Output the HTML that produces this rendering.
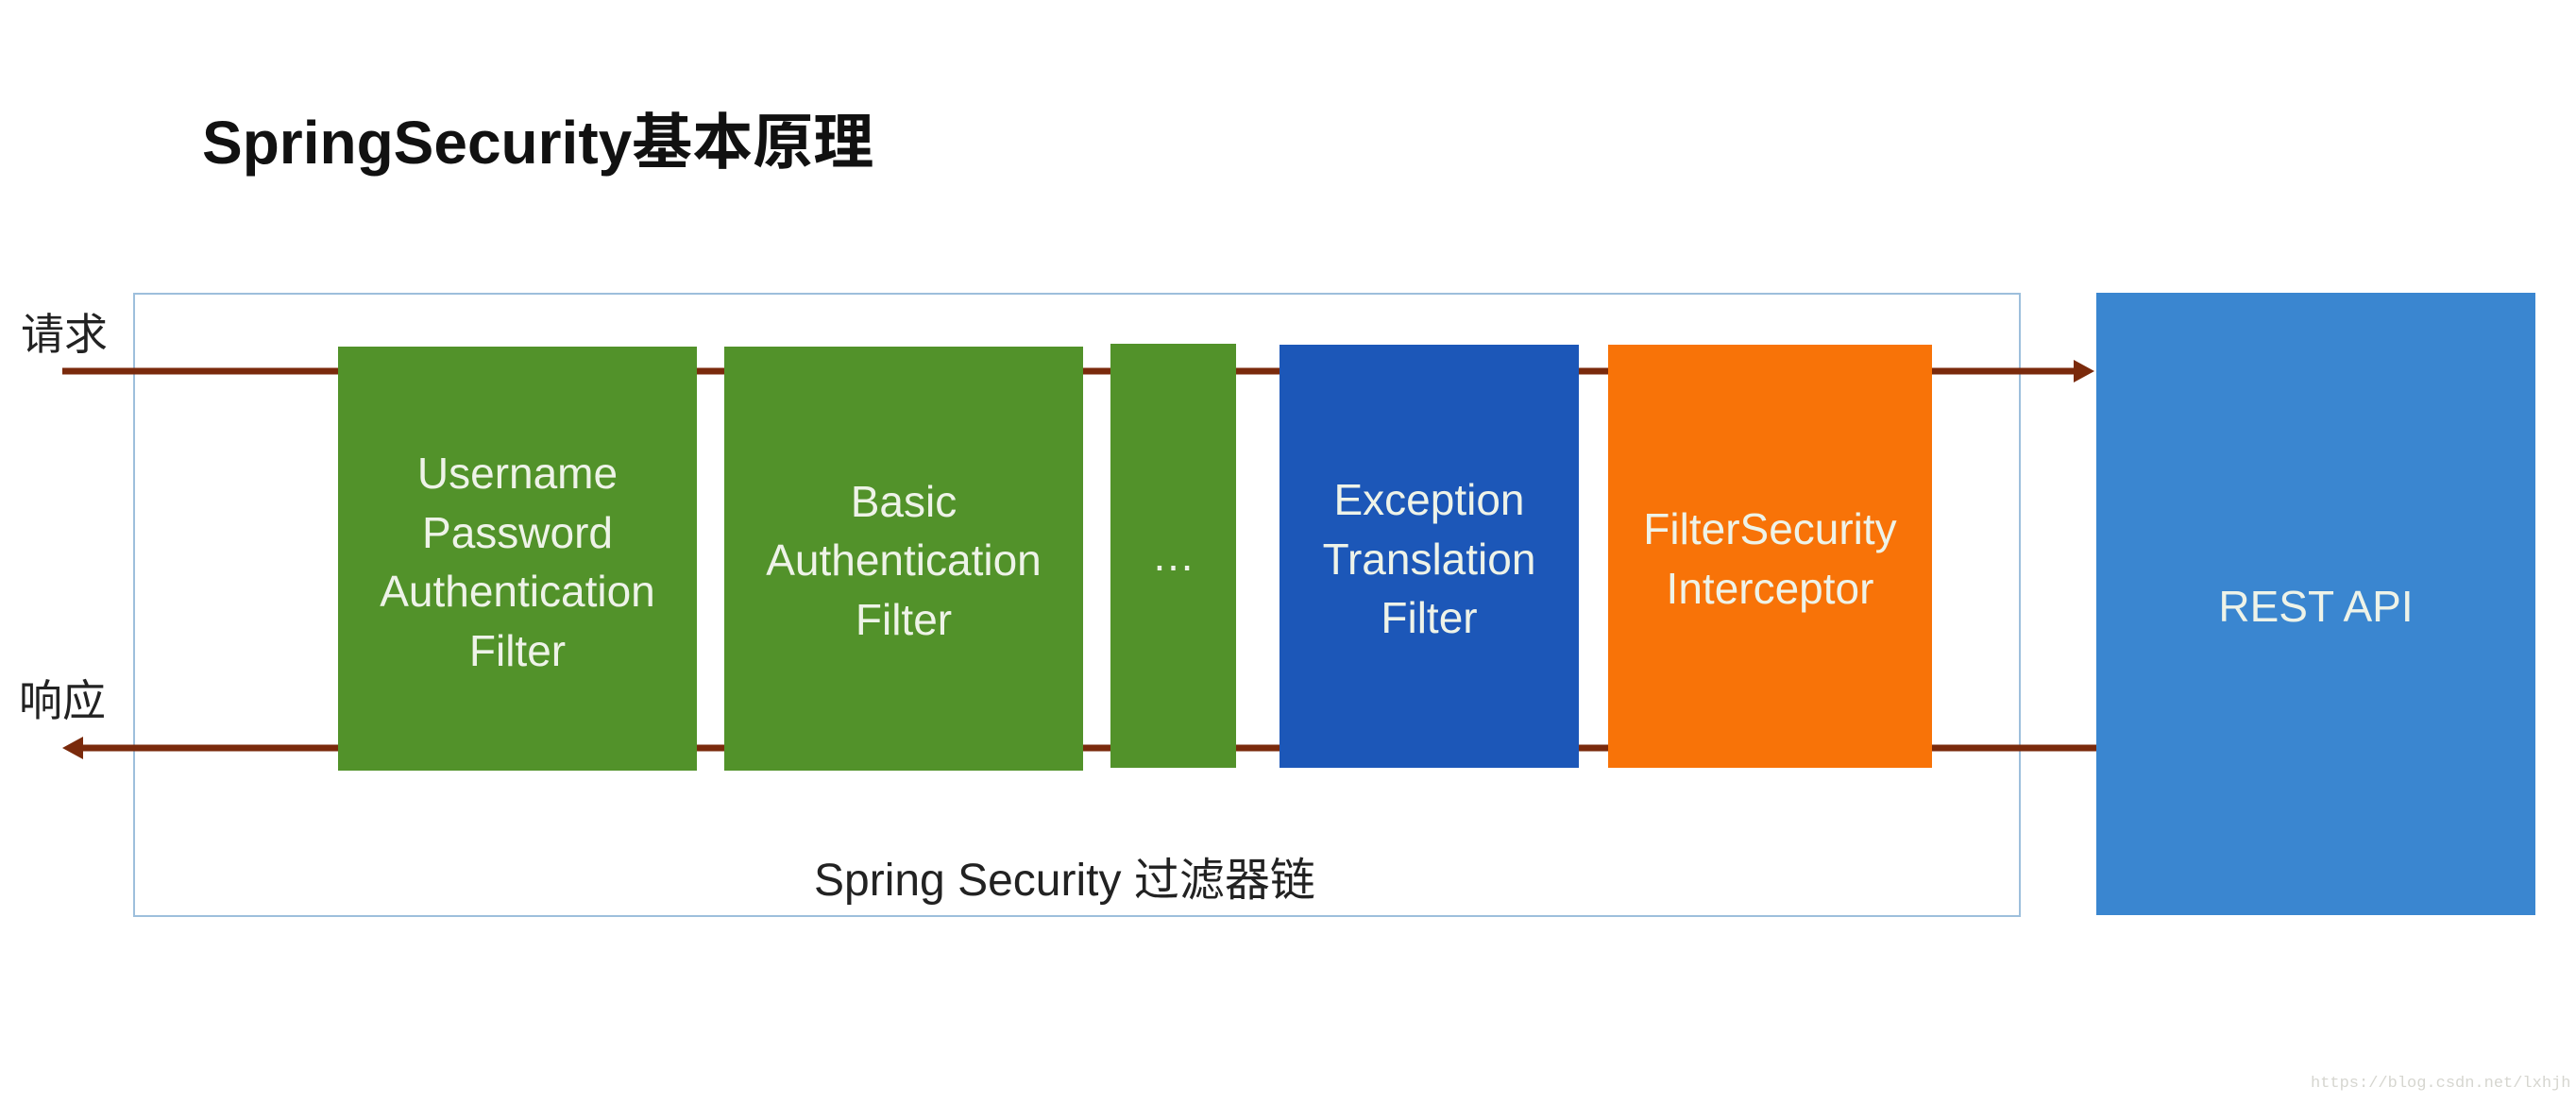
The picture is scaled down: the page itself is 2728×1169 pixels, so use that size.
<!DOCTYPE html>
<html><head><meta charset="utf-8"><style>
html,body{margin:0;padding:0;background:#fff;}
body{width:2728px;height:1169px;position:relative;overflow:hidden;font-family:"Liberation Sans","Noto Sans CJK SC",sans-serif;}
.a{position:absolute;}
.box{position:absolute;color:#eef3e8;font-size:46px;text-align:center;}
.box div{position:absolute;left:0;right:0;transform:translateY(-50%);white-space:nowrap;}
</style></head><body>
<div class="a" style="left:214px;top:100px;font-size:64px;font-weight:bold;color:#111;white-space:nowrap;">SpringSecurity基本原理</div>
<div class="a" style="left:141px;top:310px;width:1995px;height:657px;border:2px solid #9dbfdc;"></div>
<div class="a" style="left:22px;top:318px;font-size:46px;color:#222;">请求</div>
<div class="a" style="left:20px;top:706px;font-size:46px;color:#222;">响应</div>
<svg class="a" style="left:0;top:0" width="2728" height="1169">
<line x1="66" y1="393" x2="2200" y2="393" stroke="#7a2a0c" stroke-width="7"/>
<polygon points="2218,393 2196,381 2196,405" fill="#7a2a0c"/>
<line x1="2220" y1="792" x2="84" y2="792" stroke="#7a2a0c" stroke-width="7"/>
<polygon points="66,792 88,780 88,804" fill="#7a2a0c"/>
</svg>
<div class="box" style="left:358px;top:367px;width:380px;height:449px;background:#52922a;">
<div style="top:134px">Username</div><div style="top:197px">Password</div><div style="top:259px">Authentication</div><div style="top:322px">Filter</div></div>
<div class="box" style="left:767px;top:367px;width:380px;height:449px;background:#52922a;">
<div style="top:164px">Basic</div><div style="top:226px">Authentication</div><div style="top:289px">Filter</div></div>
<div class="box" style="left:1176px;top:364px;width:133px;height:449px;background:#52922a;">
<div style="top:224px">…</div></div>
<div class="box" style="left:1355px;top:365px;width:317px;height:448px;background:#1c57b8;">
<div style="top:164px">Exception</div><div style="top:227px">Translation</div><div style="top:289px">Filter</div></div>
<div class="box" style="left:1703px;top:365px;width:343px;height:448px;background:#f87308;">
<div style="top:195px">FilterSecurity</div><div style="top:258px">Interceptor</div></div>
<div class="box" style="left:2220px;top:310px;width:465px;height:659px;background:#3a86d0;">
<div style="top:332px">REST API</div></div>
<div class="a" style="left:862px;top:892px;font-size:48px;color:#222;white-space:nowrap;">Spring Security 过滤器链</div>
<div class="a" style="left:2447px;top:1138px;font-size:17px;font-family:'Liberation Mono',monospace;color:#d6d6d0;white-space:nowrap;">https://blog.csdn.net/lxhjh</div>
</body></html>
